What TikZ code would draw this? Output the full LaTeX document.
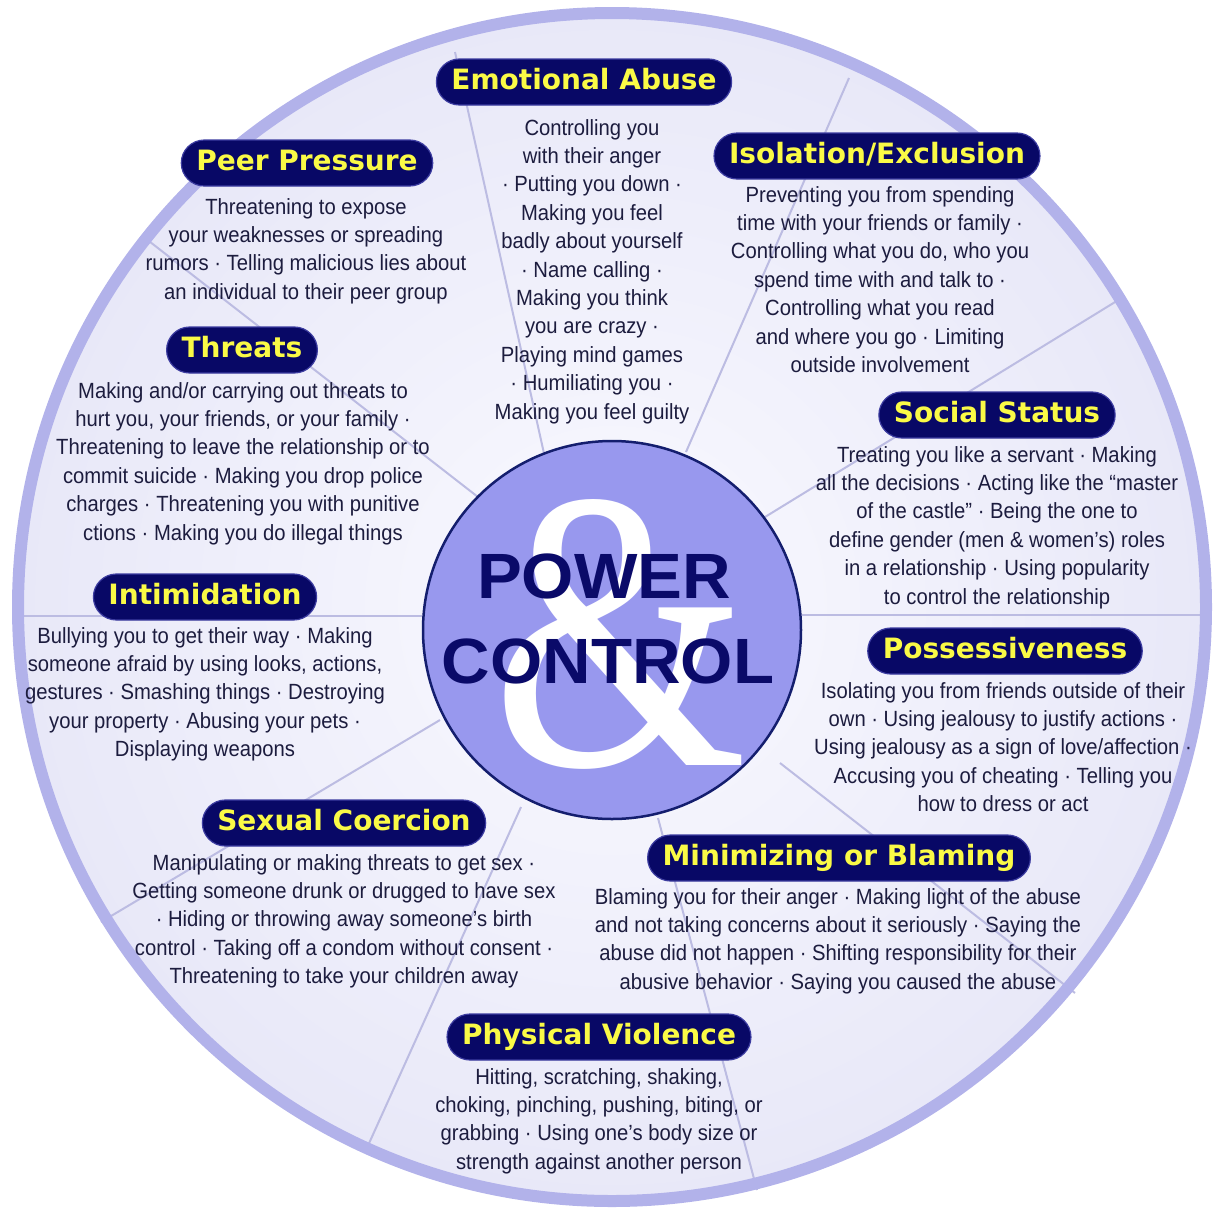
\documentclass[tikz,border=0pt]{standalone}
\usepackage{fontspec}
\setmainfont{Liberation Sans}
\newfontfamily\bodyfont[FakeStretch=0.92]{Liberation Sans}
\newfontfamily\headfont{DejaVu Sans}
\newfontfamily\hubfont[FakeStretch=1.05]{Liberation Sans}
\newfontfamily\ampfont[FakeStretch=0.82]{Liberation Serif}
\usetikzlibrary{calc}
\definecolor{navy}{RGB}{8,8,102}
\definecolor{pillrim}{RGB}{60,60,160}
\definecolor{pilltext}{RGB}{250,250,70}
\definecolor{bodytext}{RGB}{28,28,62}
\definecolor{wheelin}{RGB}{250,250,255}
\definecolor{wheelout}{RGB}{232,232,248}
\definecolor{rimcol}{RGB}{178,178,234}
\definecolor{spokecol}{RGB}{188,188,226}
\definecolor{hubcol}{RGB}{152,152,238}
\definecolor{hubline}{RGB}{20,30,110}
\definecolor{hubtext}{RGB}{10,10,105}

\begin{document}
\begin{tikzpicture}[x=1pt, y=-1pt,
	pill/.style={fill=navy, draw=pillrim, line width=1.2pt, rounded corners=23pt,
		minimum height=46pt, inner xsep=15pt, inner ysep=0pt, text height=21pt, text depth=6pt,
		text=pilltext, font=\headfont\bfseries\fontsize{28}{30}\selectfont},
	body/.style={anchor=north, inner sep=0pt, align=center, text=bodytext,
		font=\bodyfont\fontsize{22}{28.4}\selectfont},
	spoke/.style={draw=spokecol, line width=2pt},
	big/.style={anchor=base, inner sep=0pt, text=hubtext, font=\hubfont\bfseries\fontsize{64}{64}\selectfont}]
			%%%%% START %%%%%
			
			\useasboundingbox (0,0) rectangle (1224,1219);
			
			% wheel
			\fill[shading=radial, inner color=wheelin, outer color=wheelout] (612,607) circle (594);
			\foreach \ox/\oy/\ix/\iy in {455/52/545/458, 849/78/686/452, 1120/299/765/517,
				1210/615/802/615, 1075/993/780/763, 757/1190/658/818, 366/1150/521/807,
				101/922/440/720, 14/616/422/616, 145/238/478/497}
				\draw[spoke] (\ox,\oy) -- (\ix,\iy);
			\draw[rimcol, line width=12pt] (612,607) circle (594);
			
			% hub
			\node[circle, fill=hubcol, draw=hubline, line width=2.5pt, minimum size=378pt, inner sep=0pt] (hub) at (612,630) {};
			\node[anchor=base, inner sep=0pt, text=white, font=\ampfont\fontsize{400}{400}\selectfont] (amp) at (620,765) {\&};
			\node[big] (power) at (604,598) {POWER};
			\node[big] (control) at (608,683) {CONTROL};
			
			% emotional abuse
			\node[pill] (emo) at (584,82) {Emotional Abuse};
			\node[body] (emotxt) at (592,115) {\strut Controlling you\\with their anger\\· Putting you down ·\\Making you feel\\badly about yourself\\· Name calling ·\\Making you think\\you are crazy ·\\Playing mind games\\· Humiliating you ·\\Making you feel guilty};
			
			% peer pressure
			\node[pill] (peer) at (307,163) {Peer Pressure};
			\node[body] (peertxt) at (306,194) {\strut Threatening to expose\\your weaknesses or spreading\\rumors · Telling malicious lies about\\an individual to their peer group};
			
			% isolation
			\node[pill] (iso) at (877,156) {Isolation/Exclusion};
			\node[body] (isotxt) at (880,182) {\strut Preventing you from spending\\time with your friends or family ·\\Controlling what you do, who you\\spend time with and talk to ·\\Controlling what you read\\and where you go · Limiting\\outside involvement};
			
			% threats
			\node[pill] (threat) at (242,350) {Threats};
			\node[body] (threattxt) at (243,378) {\strut Making and/or carrying out threats to\\hurt you, your friends, or your family ·\\Threatening to leave the relationship or to\\commit suicide · Making you drop police\\charges · Threatening you with punitive\\ctions · Making you do illegal things};
			
			% social status
			\node[pill] (social) at (997,415) {Social Status};
			\node[body] (socialtxt) at (997,442) {\strut Treating you like a servant · Making\\all the decisions · Acting like the “master\\of the castle” · Being the one to\\define gender (men \& women’s) roles\\in a relationship · Using popularity\\to control the relationship};
			
			% intimidation
			\node[pill] (intim) at (205,597) {Intimidation};
			\node[body] (intimtxt) at (205,623) {\strut Bullying you to get their way · Making\\someone afraid by using looks, actions,\\gestures · Smashing things · Destroying\\your property · Abusing your pets ·\\Displaying weapons};
			
			% possessiveness
			\node[pill] (poss) at (1005,651) {Possessiveness};
			\node[body] (posstxt) at (1003,678) {\strut Isolating you from friends outside of their\\own · Using jealousy to justify actions ·\\Using jealousy as a sign of love/affection ·\\Accusing you of cheating · Telling you\\how to dress or act};
			
			% sexual coercion
			\node[pill] (sex) at (344,823) {Sexual Coercion};
			\node[body] (sextxt) at (344,850) {\strut Manipulating or making threats to get sex ·\\Getting someone drunk or drugged to have sex\\· Hiding or throwing away someone’s birth\\control · Taking off a condom without consent ·\\Threatening to take your children away};
			
			% minimizing
			\node[pill] (mini) at (839,858) {Minimizing or Blaming};
			\node[body] (minitxt) at (838,884) {\strut Blaming you for their anger · Making light of the abuse\\and not taking concerns about it seriously · Saying the\\abuse did not happen · Shifting responsibility for their\\abusive behavior · Saying you caused the abuse};
			
			% physical violence
			\node[pill] (phys) at (599,1037) {Physical Violence};
			\node[body] (phystxt) at (599,1064) {\strut Hitting, scratching, shaking,\\choking, pinching, pushing, biting, or\\grabbing · Using one’s body size or\\strength against another person};
			
			%%%%% END %%%%%
\end{tikzpicture}
\end{document}
